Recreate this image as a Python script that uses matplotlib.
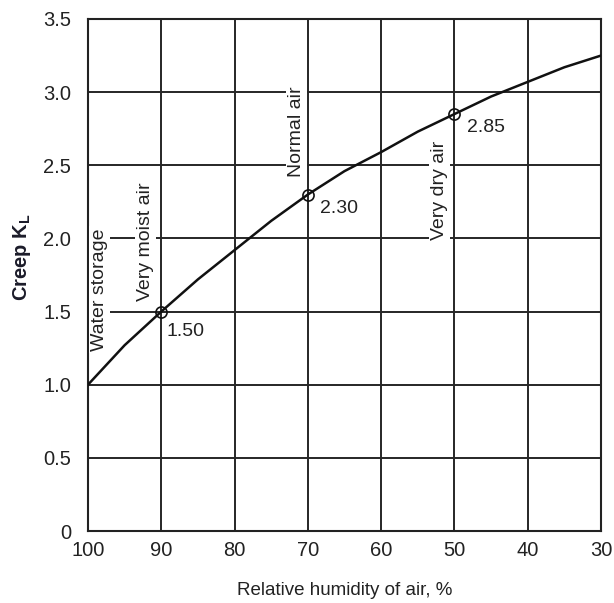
import matplotlib
matplotlib.use("Agg")
import matplotlib.pyplot as plt

plt.rcParams["font.family"] = ["Liberation Sans", "DejaVu Sans"]

# curve (humidity %, creep factor)
humidity = [100, 95, 90, 85, 80, 75, 70, 65, 60, 55, 50, 45, 40, 35, 30]
creep = [1.0, 1.27, 1.5, 1.72, 1.92, 2.12, 2.3, 2.46, 2.59, 2.73, 2.85, 2.97, 3.07, 3.17, 3.25]

# marked points
mark_humidity = [90, 70, 50]
mark_creep = [1.50, 2.30, 2.85]
mark_labels = ["1.50", "2.30", "2.85"]

x_ticks = [100, 90, 80, 70, 60, 50, 40, 30]
y_ticks = [0, 0.5, 1.0, 1.5, 2.0, 2.5, 3.0, 3.5]
y_tick_labels = ["0", "0.5", "1.0", "1.5", "2.0", "2.5", "3.0", "3.5"]

# rotated condition labels: text, humidity, creep (centre)
conditions = [
    ("Water storage", 98.4, 1.65),
    ("Very moist air", 92.1, 1.98),
    ("Normal air", 71.6, 2.73),
    ("Very dry air", 52.0, 2.33),
]

fig = plt.figure(figsize=(6.14, 6.03), dpi=100)
ax = fig.add_axes([0.1433, 0.1194, 0.9788 - 0.1433, 0.9685 - 0.1194])

ax.set_xlim(100, 30)
ax.set_ylim(0, 3.5)
ax.set_xticks(x_ticks)
ax.set_xticklabels([str(v) for v in x_ticks])
ax.set_yticks(y_ticks)
ax.set_yticklabels(y_tick_labels)
ax.tick_params(length=0, labelsize=14.5, colors="#222222")
ax.tick_params(axis="y", pad=12)
ax.tick_params(axis="x", pad=7)
ax.grid(True, color="#262626", linewidth=1.4)
ax.set_axisbelow(True)
for spine in ax.spines.values():
    spine.set_linewidth(1.5)
    spine.set_color("#222222")

ax.plot(humidity, creep, color="#111111", linewidth=1.8, zorder=3)
ax.plot(mark_humidity, mark_creep, linestyle="none", marker="o", markersize=8,
        markerfacecolor="none", markeredgecolor="#111111", markeredgewidth=1.2, zorder=4)
label_offsets = [(4, -14), (9, -10), (9, -10)]
for hx, cy, lab, off in zip(mark_humidity, mark_creep, mark_labels, label_offsets):
    ax.annotate(lab, (hx, cy), xytext=off, textcoords="offset points",
                ha="left", va="center", fontsize=14, color="#222222", zorder=5)

for text, hx, cy in conditions:
    ax.text(hx, cy, text, rotation=90, ha="center", va="center", fontsize=14,
            color="#222222", zorder=5,
            bbox=dict(boxstyle="square,pad=0.1", facecolor="white", edgecolor="none"))

ax.set_xlabel("Relative humidity of air, %", fontsize=13.5, color="#222222", labelpad=16)
ax.set_ylabel(r"Creep K$_\mathregular{L}$", fontsize=14.5, fontweight="bold",
              color="#1c1c2a")
ax.yaxis.set_label_coords(-0.107, 0.535)

fig.savefig("out.png", dpi=100)
